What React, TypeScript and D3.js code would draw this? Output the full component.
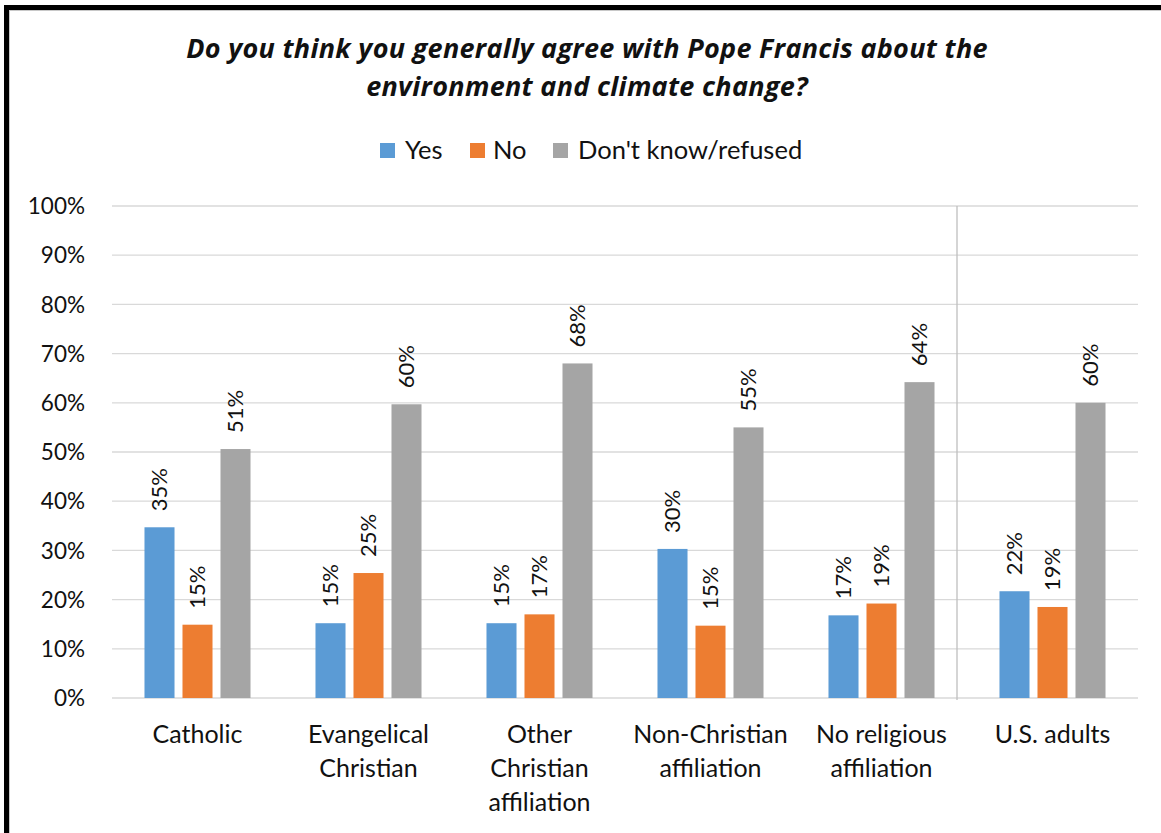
import React, { useEffect, useRef } from "react";
import * as d3 from "d3";

const categories = [
  ["Catholic"],
  ["Evangelical", "Christian"],
  ["Other", "Christian", "affiliation"],
  ["Non-Christian", "affiliation"],
  ["No religious", "affiliation"],
  ["U.S. adults"],
];
const seriesNames = ["Yes", "No", "Don't know/refused"];
const seriesColors = ["#5B9BD5", "#ED7D31", "#A5A5A5"];
const yesValues = [34.7, 15.2, 15.2, 30.3, 16.8, 21.7];
const noValues = [14.9, 25.4, 17.0, 14.7, 19.2, 18.5];
const dkValues = [50.6, 59.7, 68.0, 55.0, 64.2, 60.0];
const yesLabels = ["35%", "15%", "15%", "30%", "17%", "22%"];
const noLabels = ["15%", "25%", "17%", "15%", "19%", "19%"];
const dkLabels = ["51%", "60%", "68%", "55%", "64%", "60%"];
const yTicks = [0, 10, 20, 30, 40, 50, 60, 70, 80, 90, 100];
const titleLines = [
  "Do you think you generally agree with Pope Francis about the",
  "environment and climate change?",
];

const FONT = "Lato, 'Open Sans', sans-serif";
const TITLE_FONT = "'Open Sans', 'Noto Sans', sans-serif";

export default function App() {
  const ref = useRef<SVGSVGElement>(null);

  useEffect(() => {
    const svg = d3.select(ref.current);
    svg.selectAll("*").remove();
    const W = 1161, H = 833;
    const left = 112, right = 1138, top = 206, bottom = 698;

    svg.append("rect").attr("width", W).attr("height", H).attr("fill", "#fff");

    // frame
    svg.append("rect").attr("x", 4).attr("y", 5).attr("width", W - 4).attr("height", 5).attr("fill", "#000");
    svg.append("rect").attr("x", 4).attr("y", 5).attr("width", 5).attr("height", H - 5).attr("fill", "#000");
    svg.append("line").attr("x1", 9.5).attr("x2", 9.5).attr("y1", 10).attr("y2", H).attr("stroke", "#c8c8c8").attr("stroke-width", 1);
    svg.append("line").attr("x1", 9).attr("x2", W).attr("y1", 10.5).attr("y2", 10.5).attr("stroke", "#c8c8c8").attr("stroke-width", 1);

    const keys = categories.map((c) => c.join(" "));
    const x0 = d3.scaleBand<string>().domain(keys).range([left, right]).padding(0);
    const x1 = d3.scaleBand<string>().domain(seriesNames).range([0, x0.bandwidth()]).paddingInner(0.21).paddingOuter(0.855);
    const y = d3.scaleLinear().domain([0, 100]).range([bottom, top]);

    // title
    const title = svg.append("text").attr("text-anchor", "middle").attr("font-family", TITLE_FONT)
      .attr("font-weight", "bold").attr("font-style", "italic").attr("font-size", 27)
      .attr("letter-spacing", 0.3).attr("fill", "#111");
    titleLines.forEach((t, i) => {
      title.append("tspan").attr("x", 587).attr("y", 58 + i * 38).text(t);
    });

    // legend
    const legendItems = [
      { x: 380, tx: 405 },
      { x: 470, tx: 493 },
      { x: 553, tx: 578 },
    ];
    seriesNames.forEach((s, i) => {
      svg.append("rect").attr("x", legendItems[i].x).attr("y", 143).attr("width", 15).attr("height", 15).attr("fill", seriesColors[i]);
      svg.append("text").attr("x", legendItems[i].tx).attr("y", 159).attr("font-family", FONT).attr("font-size", 25.5).attr("fill", "#111").text(s);
    });

    // grid
    svg.append("g").selectAll("line").data(yTicks).join("line")
      .attr("x1", left).attr("x2", right)
      .attr("y1", (d) => y(d)).attr("y2", (d) => y(d))
      .attr("stroke", "#d9d9d9").attr("stroke-width", 1.3);

    // y tick labels
    svg.append("g").selectAll("text").data(yTicks).join("text")
      .attr("x", 85).attr("y", (d) => y(d)).attr("dy", "0.36em")
      .attr("text-anchor", "end").attr("font-family", FONT).attr("font-size", 22.5).attr("fill", "#111")
      .text((d) => d + "%");

    // separator line
    const sepX = (x0(keys[5]) as number) - 10;
    svg.append("line").attr("x1", sepX).attr("x2", sepX).attr("y1", y(100)).attr("y2", bottom + 2)
      .attr("stroke", "#bfbfbf").attr("stroke-width", 1.3);

    const seriesValues = [yesValues, noValues, dkValues];
    const seriesLabels = [yesLabels, noLabels, dkLabels];

    seriesNames.forEach((s, si) => {
      const g = svg.append("g");
      keys.forEach((k, ci) => {
        const v = seriesValues[si][ci];
        const bx = (x0(k) as number) + (x1(s) as number);
        const bw = x1.bandwidth();
        g.append("rect").attr("x", bx).attr("y", y(v)).attr("width", bw).attr("height", bottom - y(v))
          .attr("fill", seriesColors[si]);
        const cx = bx + bw / 2;
        const ly = y(v) - 16;
        g.append("text").attr("transform", `translate(${cx},${ly}) rotate(-90)`)
          .attr("dy", "0.36em").attr("font-family", FONT).attr("font-size", 22).attr("fill", "#111")
          .text(seriesLabels[si][ci]);
      });
    });

    // category labels
    keys.forEach((k, ci) => {
      const cx = (x0(k) as number) + x0.bandwidth() / 2;
      const t = svg.append("text").attr("text-anchor", "middle").attr("font-family", FONT).attr("font-size", 25).attr("fill", "#111");
      categories[ci].forEach((line, li) => {
        t.append("tspan").attr("x", cx).attr("y", 743 + li * 34).text(line);
      });
    });
  }, []);

  return (
    <svg ref={ref} width={1161} height={833} style={{ position: "absolute", left: 0, top: 0, display: "block" }} />
  );
}
